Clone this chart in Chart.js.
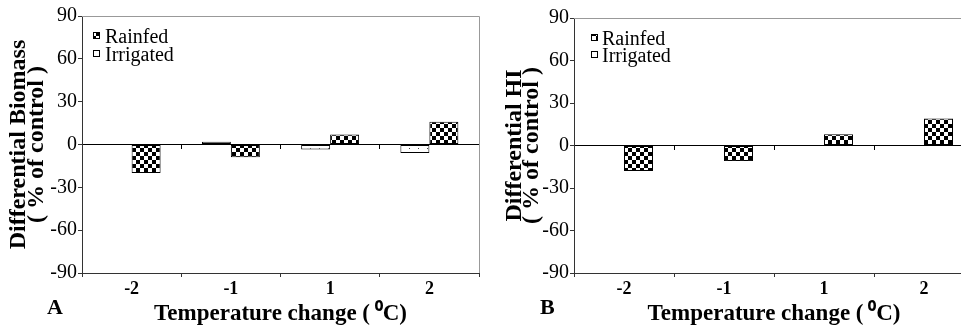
<!DOCTYPE html>
<html><head><meta charset="utf-8">
<script src="https://cdn.jsdelivr.net/npm/chart.js@4.4.0/dist/chart.umd.min.js"></script>
<style>
html,body{margin:0;padding:0;background:#fff;}
#wrap{position:relative;width:961px;height:327px;overflow:hidden;background:#fff;}
canvas{position:absolute;top:0;}
#c1{left:0;} #c2{left:480px;}
.panel{position:absolute;font-family:'Liberation Serif','Times New Roman',serif;font-weight:bold;font-size:22px;color:#000;line-height:22px;}
</style></head>
<body>
<div id="wrap">
<canvas id="c1" width="480" height="327"></canvas>
<canvas id="c2" width="500" height="327"></canvas>
<div class="panel" style="left:47px;top:296px;">A</div>
<div class="panel" style="left:540px;top:296px;">B</div>
</div>
<script>
// ---- data ----
const categories = ['-2', '-1', '1', '2'];
const seriesNames = ['Rainfed', 'Irrigated'];
const biomassRainfed = [-20, -9, 7, 16];
const biomassIrrigated = [0, 2, -3.5, -6];
const hiRainfed = [-18, -11, 8, 19];
const hiIrrigated = [0, 0, 0, 0];
const yTicks = [-90, -60, -30, 0, 30, 60, 90];
const yTitleBiomass = ['Differential Biomass', '( % of control )'];
const yTitleHI = ['Differential HI', '( % of control )'];
const xTitle = 'Temperature change (\u2009\u2070C)';

const FONT = "'Liberation Serif', 'Times New Roman', serif";

function makePattern(draw, w, h) {
  const c = document.createElement('canvas');
  c.width = w; c.height = h;
  const g = c.getContext('2d');
  draw(g);
  return g.createPattern(c, 'repeat');
}
const checkPat = makePattern(g => {
  g.fillStyle = '#fff'; g.fillRect(0, 0, 8, 8);
  g.fillStyle = '#000'; g.fillRect(0, 0, 4, 4); g.fillRect(4, 4, 4, 4);
}, 8, 8);
const dotPat = makePattern(g => {
  g.fillStyle = '#fff'; g.fillRect(0, 0, 9, 9);
  g.fillStyle = '#444'; g.fillRect(4, 4, 1, 1);
}, 9, 9);

const panelDecor = {
  id: 'panelDecor',
  beforeDatasetsDraw(chart) {
    const {ctx, chartArea: a} = chart;
    ctx.save();
    ctx.strokeStyle = '#999';
    ctx.lineWidth = 1;
    ctx.beginPath();
    ctx.moveTo(a.left, Math.round(a.top) + 0.5);
    ctx.lineTo(Math.round(a.right) + 0.5, Math.round(a.top) + 0.5);
    ctx.lineTo(Math.round(a.right) + 0.5, a.bottom);
    ctx.stroke();
    ctx.restore();
  },
  afterDraw(chart, args, opts) {
    const {ctx, chartArea: a} = chart;
    const ds = chart.data.datasets.slice().reverse();
    ctx.save();
    ctx.font = '20px ' + FONT;
    ctx.textBaseline = 'alphabetic';
    ctx.textAlign = 'left';
    ds.forEach((d, i) => {
      const base = Math.round(a.top + opts.y + i * opts.gap);
      const bx = Math.round(a.left + opts.x);
      ctx.fillStyle = d.backgroundColor;
      ctx.fillRect(bx, base - 11, 7, 7);
      ctx.strokeStyle = '#000';
      ctx.lineWidth = 1;
      ctx.strokeRect(bx + 0.5, base - 10.5, 6, 6);
      ctx.fillStyle = '#000';
      ctx.fillText(d.label, bx + opts.tx, base);
    });
    ctx.restore();
  }
};

function makeChart(id, irr, rain, yTitle, geo) {
  return new Chart(document.getElementById(id), {
    type: 'bar',
    data: {
      labels: categories,
      datasets: [
        {label: seriesNames[1], data: irr, backgroundColor: dotPat, borderColor: '#000', borderWidth: 1, borderSkipped: false},
        {label: seriesNames[0], data: rain, backgroundColor: checkPat, borderColor: '#000', borderWidth: 1, borderSkipped: false}
      ]
    },
    options: {
      responsive: false,
      animation: false,
      devicePixelRatio: 1,
      layout: {padding: {left: 0, right: geo.padRight, top: geo.top, bottom: 0}},
      datasets: {bar: {categoryPercentage: geo.catPct, barPercentage: 1}},
      plugins: {
        legend: {display: false},
        tooltip: {enabled: false},
        panelDecor: geo.legend
      },
      scales: {
        x: {
          type: 'category', position: 'bottom', offset: true,
          grid: {offset: true, drawOnChartArea: false, drawTicks: true, tickLength: 4, color: '#333'},
          border: {color: '#333', width: 1},
          ticks: {color: '#000', font: {family: FONT, size: 18, weight: 'bold'}, padding: 2, maxRotation: 0, autoSkip: false},
          title: {display: true, text: xTitle, color: '#000', font: {family: FONT, size: 23, weight: 'bold', lineHeight: '26px'}, padding: {top: 0, bottom: 0}},
          afterFit(s) { s.height = geo.xH; }
        },
        x0: {
          type: 'category', axis: 'x', position: {y: 0}, offset: true,
          grid: {offset: true, drawOnChartArea: false, drawTicks: true, tickLength: 4, color: '#000'},
          border: {color: '#000', width: 1},
          ticks: {display: false}
        },
        y: {
          type: 'linear', position: 'left', min: -90, max: 90,
          afterBuildTicks(s) { s.ticks = yTicks.map(v => ({value: v})); },
          grid: {drawOnChartArea: false, drawTicks: true, tickLength: 4, color: '#333'},
          border: {color: '#333', width: 1},
          ticks: {color: '#000', font: {family: FONT, size: 20}, padding: 1},
          title: {display: true, text: yTitle, color: '#000', font: {family: FONT, size: 24, weight: 'bold', lineHeight: geo.yLH}, padding: {top: geo.yPad, bottom: 0}},
          afterFit(s) { s.width = geo.yW; }
        }
      }
    },
    plugins: [panelDecor]
  });
}

makeChart('c1', biomassIrrigated, biomassRainfed, yTitleBiomass,
  {yW: 82, top: 16, xH: 54, padRight: 1, catPct: 0.584, yLH: '18px', yPad: 10,
   legend: {x: 11, y: 27, gap: 18, tx: 12}});
makeChart('c2', hiIrrigated, hiRainfed, yTitleHI,
  {yW: 94, top: 18, xH: 54, padRight: 6, catPct: 0.58, yLH: '17px', yPad: 26,
   legend: {x: 17, y: 27, gap: 17, tx: 11}});
</script>
</body></html>
